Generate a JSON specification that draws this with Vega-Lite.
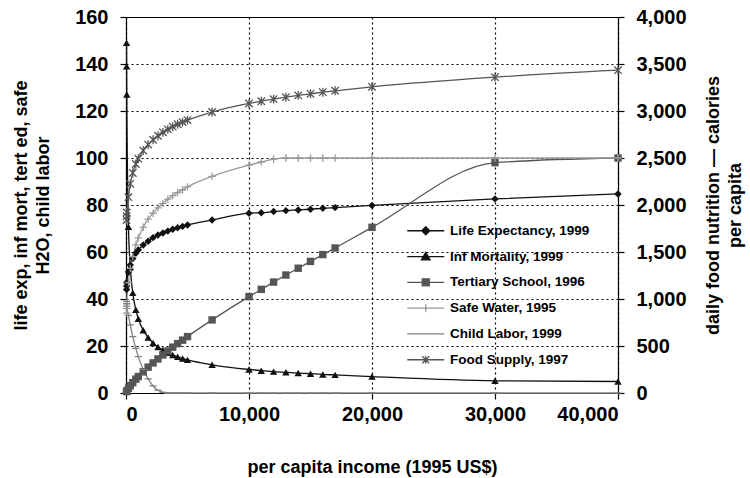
{
 "$schema": "https://vega.github.io/schema/vega-lite/v6.json",
 "width": 492, "height": 376,
 "autosize": {"type": "none"},
 "padding": {"left": 126, "top": 17, "right": 132, "bottom": 85},
 "background": "white",
 "config": {
  "font": "Liberation Sans",
  "view": {"stroke": "#000", "strokeWidth": 1},
  "axis": {"labelFont": "Liberation Sans", "labelFontWeight": "bold", "labelFontSize": 20, "labelColor": "#000",
   "titleFont": "Liberation Sans", "titleFontWeight": "bold", "titleFontSize": 18, "titleColor": "#000", "titleLineHeight": 22,
   "domainColor": "#000", "tickColor": "#000", "tickSize": 6, "domainWidth": 1.2, "tickWidth": 1.2,
   "gridColor": "#000", "gridDash": [2, 3], "gridWidth": 1.2, "gridOpacity": 1}
 },
 "data": {"values": [
  {"s":"Life Expectancy, 1999","x":45,"v":44},{"s":"Life Expectancy, 1999","x":52,"v":45.5},{"s":"Life Expectancy, 1999","x":62,"v":47},{"s":"Life Expectancy, 1999","x":200,"v":51.5},{"s":"Life Expectancy, 1999","x":350,"v":54.5},{"s":"Life Expectancy, 1999","x":550,"v":57.2},{"s":"Life Expectancy, 1999","x":800,"v":59.5},{"s":"Life Expectancy, 1999","x":1000,"v":60.9},{"s":"Life Expectancy, 1999","x":1400,"v":63.0},{"s":"Life Expectancy, 1999","x":1800,"v":64.6},{"s":"Life Expectancy, 1999","x":2200,"v":66.1},{"s":"Life Expectancy, 1999","x":2600,"v":67.2},{"s":"Life Expectancy, 1999","x":3000,"v":68.1},{"s":"Life Expectancy, 1999","x":3400,"v":68.9},{"s":"Life Expectancy, 1999","x":3800,"v":69.7},{"s":"Life Expectancy, 1999","x":4200,"v":70.3},{"s":"Life Expectancy, 1999","x":4600,"v":70.9},{"s":"Life Expectancy, 1999","x":5000,"v":71.5},{"s":"Life Expectancy, 1999","x":7000,"v":73.6},{"s":"Life Expectancy, 1999","x":10000,"v":76.5},{"s":"Life Expectancy, 1999","x":11000,"v":76.7},{"s":"Life Expectancy, 1999","x":12000,"v":77.2},{"s":"Life Expectancy, 1999","x":13000,"v":77.6},{"s":"Life Expectancy, 1999","x":14000,"v":77.9},{"s":"Life Expectancy, 1999","x":15000,"v":78.2},{"s":"Life Expectancy, 1999","x":16000,"v":78.6},{"s":"Life Expectancy, 1999","x":17000,"v":78.9},{"s":"Life Expectancy, 1999","x":20000,"v":79.8},{"s":"Life Expectancy, 1999","x":30000,"v":82.6},{"s":"Life Expectancy, 1999","x":40000,"v":84.7},
  {"s":"Inf Mortality, 1999","x":45,"v":149},{"s":"Inf Mortality, 1999","x":52,"v":139},{"s":"Inf Mortality, 1999","x":62,"v":127},{"s":"Inf Mortality, 1999","x":200,"v":70.7},{"s":"Inf Mortality, 1999","x":350,"v":53.5},{"s":"Inf Mortality, 1999","x":550,"v":42.6},{"s":"Inf Mortality, 1999","x":800,"v":35.4},{"s":"Inf Mortality, 1999","x":1000,"v":31.6},{"s":"Inf Mortality, 1999","x":1400,"v":26.7},{"s":"Inf Mortality, 1999","x":1800,"v":23.6},{"s":"Inf Mortality, 1999","x":2200,"v":21.3},{"s":"Inf Mortality, 1999","x":2600,"v":19.6},{"s":"Inf Mortality, 1999","x":3000,"v":18.3},{"s":"Inf Mortality, 1999","x":3400,"v":17.1},{"s":"Inf Mortality, 1999","x":3800,"v":16.2},{"s":"Inf Mortality, 1999","x":4200,"v":15.4},{"s":"Inf Mortality, 1999","x":4600,"v":14.7},{"s":"Inf Mortality, 1999","x":5000,"v":14.1},{"s":"Inf Mortality, 1999","x":7000,"v":12.0},{"s":"Inf Mortality, 1999","x":10000,"v":10.0},{"s":"Inf Mortality, 1999","x":11000,"v":9.5},{"s":"Inf Mortality, 1999","x":12000,"v":9.1},{"s":"Inf Mortality, 1999","x":13000,"v":8.8},{"s":"Inf Mortality, 1999","x":14000,"v":8.5},{"s":"Inf Mortality, 1999","x":15000,"v":8.2},{"s":"Inf Mortality, 1999","x":16000,"v":7.9},{"s":"Inf Mortality, 1999","x":17000,"v":7.7},{"s":"Inf Mortality, 1999","x":20000,"v":7.0},{"s":"Inf Mortality, 1999","x":30000,"v":5.2},{"s":"Inf Mortality, 1999","x":40000,"v":4.9},
  {"s":"Tertiary School, 1996","x":45,"v":0.6},{"s":"Tertiary School, 1996","x":52,"v":0.7},{"s":"Tertiary School, 1996","x":62,"v":0.8},{"s":"Tertiary School, 1996","x":200,"v":2.0},{"s":"Tertiary School, 1996","x":350,"v":3.1},{"s":"Tertiary School, 1996","x":550,"v":4.4},{"s":"Tertiary School, 1996","x":800,"v":5.9},{"s":"Tertiary School, 1996","x":1000,"v":7.0},{"s":"Tertiary School, 1996","x":1400,"v":9.0},{"s":"Tertiary School, 1996","x":1800,"v":11.0},{"s":"Tertiary School, 1996","x":2200,"v":12.8},{"s":"Tertiary School, 1996","x":2600,"v":14.5},{"s":"Tertiary School, 1996","x":3000,"v":16.2},{"s":"Tertiary School, 1996","x":3400,"v":17.9},{"s":"Tertiary School, 1996","x":3800,"v":19.5},{"s":"Tertiary School, 1996","x":4200,"v":21.0},{"s":"Tertiary School, 1996","x":4600,"v":22.5},{"s":"Tertiary School, 1996","x":5000,"v":24.0},{"s":"Tertiary School, 1996","x":7000,"v":31.1},{"s":"Tertiary School, 1996","x":10000,"v":41.0},{"s":"Tertiary School, 1996","x":11000,"v":44.1},{"s":"Tertiary School, 1996","x":12000,"v":47.2},{"s":"Tertiary School, 1996","x":13000,"v":50.2},{"s":"Tertiary School, 1996","x":14000,"v":53.1},{"s":"Tertiary School, 1996","x":15000,"v":56.0},{"s":"Tertiary School, 1996","x":16000,"v":58.9},{"s":"Tertiary School, 1996","x":17000,"v":61.7},{"s":"Tertiary School, 1996","x":20000,"v":70.5},{"s":"Tertiary School, 1996","x":30000,"v":98},{"s":"Tertiary School, 1996","x":40000,"v":100},
  {"s":"Safe Water, 1995","x":45,"v":34},{"s":"Safe Water, 1995","x":52,"v":36},{"s":"Safe Water, 1995","x":62,"v":38},{"s":"Safe Water, 1995","x":200,"v":47},{"s":"Safe Water, 1995","x":350,"v":53},{"s":"Safe Water, 1995","x":550,"v":58},{"s":"Safe Water, 1995","x":800,"v":63},{"s":"Safe Water, 1995","x":1000,"v":66},{"s":"Safe Water, 1995","x":1400,"v":70.5},{"s":"Safe Water, 1995","x":1800,"v":74},{"s":"Safe Water, 1995","x":2200,"v":76.5},{"s":"Safe Water, 1995","x":2600,"v":78.8},{"s":"Safe Water, 1995","x":3000,"v":80.7},{"s":"Safe Water, 1995","x":3400,"v":82.5},{"s":"Safe Water, 1995","x":3800,"v":84},{"s":"Safe Water, 1995","x":4200,"v":85.3},{"s":"Safe Water, 1995","x":4600,"v":86.5},{"s":"Safe Water, 1995","x":5000,"v":87.7},{"s":"Safe Water, 1995","x":7000,"v":92.2},{"s":"Safe Water, 1995","x":10000,"v":97},{"s":"Safe Water, 1995","x":11000,"v":98.3},{"s":"Safe Water, 1995","x":12000,"v":99.5},{"s":"Safe Water, 1995","x":13000,"v":100},{"s":"Safe Water, 1995","x":14000,"v":100},{"s":"Safe Water, 1995","x":15000,"v":100},{"s":"Safe Water, 1995","x":16000,"v":100},{"s":"Safe Water, 1995","x":17000,"v":100},{"s":"Safe Water, 1995","x":20000,"v":100},{"s":"Safe Water, 1995","x":30000,"v":100},{"s":"Safe Water, 1995","x":40000,"v":100},
  {"s":"Child Labor, 1999","x":45,"v":39},{"s":"Child Labor, 1999","x":52,"v":38},{"s":"Child Labor, 1999","x":62,"v":37},{"s":"Child Labor, 1999","x":200,"v":33},{"s":"Child Labor, 1999","x":350,"v":29},{"s":"Child Labor, 1999","x":550,"v":24},{"s":"Child Labor, 1999","x":800,"v":19},{"s":"Child Labor, 1999","x":1000,"v":15.5},{"s":"Child Labor, 1999","x":1400,"v":10},{"s":"Child Labor, 1999","x":1800,"v":6},{"s":"Child Labor, 1999","x":2200,"v":3},{"s":"Child Labor, 1999","x":2600,"v":1.2},{"s":"Child Labor, 1999","x":3000,"v":0.3},{"s":"Child Labor, 1999","x":3400,"v":0},{"s":"Child Labor, 1999","x":3800,"v":0},{"s":"Child Labor, 1999","x":4200,"v":0},{"s":"Child Labor, 1999","x":4600,"v":0},{"s":"Child Labor, 1999","x":5000,"v":0},{"s":"Child Labor, 1999","x":7000,"v":0},{"s":"Child Labor, 1999","x":10000,"v":0},{"s":"Child Labor, 1999","x":11000,"v":0},{"s":"Child Labor, 1999","x":12000,"v":0},{"s":"Child Labor, 1999","x":13000,"v":0},{"s":"Child Labor, 1999","x":14000,"v":0},{"s":"Child Labor, 1999","x":15000,"v":0},{"s":"Child Labor, 1999","x":16000,"v":0},{"s":"Child Labor, 1999","x":17000,"v":0},{"s":"Child Labor, 1999","x":20000,"v":0},{"s":"Child Labor, 1999","x":30000,"v":0},{"s":"Child Labor, 1999","x":40000,"v":0},
  {"s":"Food Supply, 1997","x":45,"v":1840},{"s":"Food Supply, 1997","x":52,"v":1880},{"s":"Food Supply, 1997","x":62,"v":1920},{"s":"Food Supply, 1997","x":200,"v":2083},{"s":"Food Supply, 1997","x":350,"v":2225},{"s":"Food Supply, 1997","x":550,"v":2340},{"s":"Food Supply, 1997","x":800,"v":2436},{"s":"Food Supply, 1997","x":1000,"v":2493},{"s":"Food Supply, 1997","x":1400,"v":2579},{"s":"Food Supply, 1997","x":1800,"v":2643},{"s":"Food Supply, 1997","x":2200,"v":2694},{"s":"Food Supply, 1997","x":2600,"v":2737},{"s":"Food Supply, 1997","x":3000,"v":2773},{"s":"Food Supply, 1997","x":3400,"v":2805},{"s":"Food Supply, 1997","x":3800,"v":2833},{"s":"Food Supply, 1997","x":4200,"v":2859},{"s":"Food Supply, 1997","x":4600,"v":2882},{"s":"Food Supply, 1997","x":5000,"v":2903},{"s":"Food Supply, 1997","x":7000,"v":2989},{"s":"Food Supply, 1997","x":10000,"v":3080},{"s":"Food Supply, 1997","x":11000,"v":3104},{"s":"Food Supply, 1997","x":12000,"v":3126},{"s":"Food Supply, 1997","x":13000,"v":3147},{"s":"Food Supply, 1997","x":14000,"v":3166},{"s":"Food Supply, 1997","x":15000,"v":3183},{"s":"Food Supply, 1997","x":16000,"v":3200},{"s":"Food Supply, 1997","x":17000,"v":3215},{"s":"Food Supply, 1997","x":20000,"v":3257},{"s":"Food Supply, 1997","x":30000,"v":3360},{"s":"Food Supply, 1997","x":40000,"v":3434}
 ]},
 "encoding": {
  "x": {"field": "x", "type": "quantitative", "scale": {"domain": [0, 40000], "nice": false},
   "axis": {"values": [0, 10000, 20000, 30000, 40000], "format": ",d", "title": "per capita income (1995 US$)", "labelPadding": 5, "titlePadding": 34, "grid": true}}
 },
 "layer": [
  {
   "transform": [{"filter": "datum.s !== 'Food Supply, 1997'"}],
   "encoding": {
    "y": {"field": "v", "type": "quantitative", "scale": {"domain": [0, 160], "nice": false},
     "axis": {"values": [0, 20, 40, 60, 80, 100, 120, 140, 160], "title": ["life exp, inf mort, tert ed, safe", "H2O, child labor"], "labelPadding": 12, "titlePadding": 22, "grid": true}}
   },
   "layer": [
    {"mark": {"type": "line", "interpolate": "monotone", "strokeWidth": 1.3},
     "encoding": {"color": {"field": "s", "type": "nominal",
      "scale": {"domain": ["Life Expectancy, 1999", "Inf Mortality, 1999", "Tertiary School, 1996", "Safe Water, 1995", "Child Labor, 1999", "Food Supply, 1997"], "range": ["#111111", "#111111", "#555555", "#9a9a9a", "#808080", "#555555"]},
      "legend": {"orient": "none", "legendX": 293, "legendY": 207, "title": null, "padding": 0,
       "labelFont": "Liberation Sans", "labelFontSize": 13.5, "labelFontWeight": "bold", "labelColor": "#000", "labelLimit": 300,
       "symbolSize": 100, "labelOffset": 17.5, "rowPadding": 10.8, "symbolStrokeWidth": 1.3,
       "encode": {"symbols": {"update": {
        "shape": {"signal": "datum.value === 'Life Expectancy, 1999' ? 'M-3.7,0L3.7,0M0,-0.8L0.8,0L0,0.8L-0.8,0Z' : datum.value === 'Inf Mortality, 1999' ? 'M-3.7,0L3.7,0M0,-0.85L0.85,0.65L-0.85,0.65Z' : datum.value === 'Tertiary School, 1996' ? 'M-3.7,0L3.7,0M-0.7,-0.7L0.7,-0.7L0.7,0.7L-0.7,0.7Z' : datum.value === 'Safe Water, 1995' ? 'M-3.7,0L3.7,0M0,-0.8L0,0.8' : datum.value === 'Child Labor, 1999' ? 'M-3.7,0L3.7,0M-0.7,0L0.7,0' : 'M-3.7,0L3.7,0M-0.7,-0.7L0.7,0.7M-0.7,0.7L0.7,-0.7M0,-0.8L0,0.8'"},
        "fill": {"signal": "datum.value === 'Life Expectancy, 1999' || datum.value === 'Inf Mortality, 1999' ? '#111111' : datum.value === 'Tertiary School, 1996' ? '#555555' : 'transparent'"},
        "stroke": {"signal": "datum.value === 'Safe Water, 1995' ? '#9a9a9a' : datum.value === 'Child Labor, 1999' ? '#808080' : datum.value === 'Tertiary School, 1996' || datum.value === 'Food Supply, 1997' ? '#555555' : '#111111'"},
        "strokeWidth": {"value": 1.3},
        "opacity": {"value": 1}
       }}}
      }}}
    },
    {"transform": [{"filter": "datum.s === 'Life Expectancy, 1999'"}],
     "mark": {"type": "point", "filled": true, "size": 55, "opacity": 1, "shape": "diamond", "color": "#111111"}},
    {"transform": [{"filter": "datum.s === 'Inf Mortality, 1999'"}],
     "mark": {"type": "point", "filled": true, "size": 55, "opacity": 1, "shape": "triangle-up", "color": "#111111"}},
    {"transform": [{"filter": "datum.s === 'Tertiary School, 1996'"}],
     "mark": {"type": "point", "filled": true, "size": 55, "opacity": 1, "shape": "square", "color": "#555555"}},
    {"transform": [{"filter": "datum.s === 'Safe Water, 1995'"}],
     "mark": {"type": "point", "filled": false, "size": 55, "opacity": 1, "strokeWidth": 1.3, "shape": "M0,-1L0,1M-1,0L1,0", "color": "#9a9a9a"}},
    {"transform": [{"filter": "datum.s === 'Child Labor, 1999'"}],
     "mark": {"type": "point", "filled": false, "size": 50, "opacity": 1, "strokeWidth": 1.3, "shape": "M-1,0L1,0", "color": "#808080"}}
   ]
  },
  {
   "transform": [{"filter": "datum.s === 'Food Supply, 1997'"}],
   "encoding": {
    "y": {"field": "v", "type": "quantitative", "scale": {"domain": [0, 4000], "nice": false},
     "axis": {"orient": "right", "values": [0, 500, 1000, 1500, 2000, 2500, 3000, 3500, 4000], "format": ",d", "grid": false, "title": ["daily food nutrition — calories", "per capita"], "titleAngle": 270, "titleAlign": "center", "titleBaseline": "top", "labelPadding": 12, "titlePadding": -4}}
   },
   "layer": [
    {"mark": {"type": "line", "interpolate": "monotone", "strokeWidth": 1.3},
     "encoding": {"color": {"field": "s", "type": "nominal", "scale": {"domain": ["Life Expectancy, 1999", "Inf Mortality, 1999", "Tertiary School, 1996", "Safe Water, 1995", "Child Labor, 1999", "Food Supply, 1997"], "range": ["#111111", "#111111", "#555555", "#9a9a9a", "#808080", "#555555"]}}}
    },
    {"mark": {"type": "point", "filled": false, "size": 55, "opacity": 1, "strokeWidth": 1.3, "shape": "M-1,-1L1,1M-1,1L1,-1M0,-1.2L0,1.2", "color": "#555555"}}
   ]
  }
 ],
 "resolve": {"scale": {"y": "independent"}}
}
